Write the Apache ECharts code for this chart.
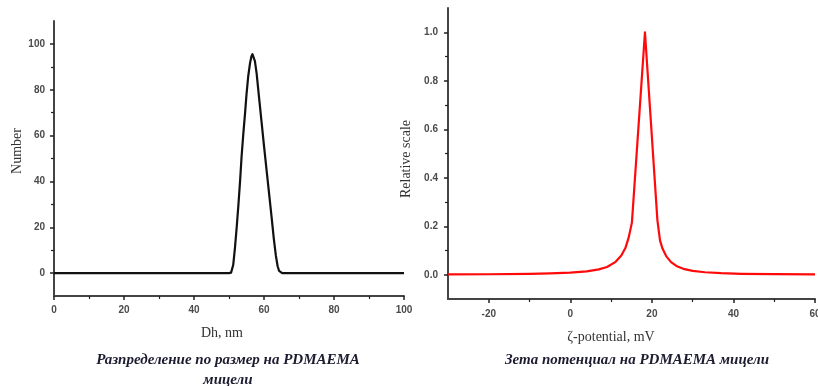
<!DOCTYPE html>
<html>
<head>
<meta charset="utf-8">
<script src="https://cdn.jsdelivr.net/npm/echarts@6/dist/echarts.min.js"></script>
<style>
html,body{margin:0;padding:0;background:#fff;}
#c{width:818px;height:386px;}
</style>
</head>
<body>
<div id="c"></div>
<script>
// Left panel: size distribution (Dh, nm vs Number)
const sizeX = [0, 10, 20, 30, 40, 50, 50.6, 50.9, 51.2, 51.7, 52.2, 52.7, 53.2, 53.6, 54.1, 54.6, 55.0, 55.5, 56.0, 56.4, 56.7, 57.0, 57.4, 57.9, 58.6, 59.3, 60.0, 60.8, 61.5, 62.2, 62.8, 63.4, 63.9, 64.3, 64.7, 65.2, 70, 80, 90, 100];
const sizeY = [0, 0, 0, 0, 0, 0, 0.2, 1, 3.5, 11, 20, 30, 41, 51, 61, 70, 78, 86, 91.5, 94.5, 95.5, 95, 92.5, 87, 76.5, 66, 55.5, 44, 34, 24, 15, 7.5, 3, 1, 0.2, 0, 0, 0, 0, 0];
const sizeXTicks = [0, 20, 40, 60, 80, 100];
const sizeXMinor = [10, 30, 50, 70, 90];
const sizeYTicks = [0, 20, 40, 60, 80, 100];
const sizeYMinor = [10, 30, 50, 70, 90];

// Right panel: zeta potential (mV vs relative scale)
const zetaX = [-30, -20, -10, -5, 0, 4, 7, 9, 11, 12.5, 13.5, 14.3, 15.1, 18.3, 21.35, 22, 22.6, 23.5, 24.7, 26, 28, 30, 33, 37, 42, 50, 60];
const zetaY = [0.0012, 0.002, 0.0036, 0.0053, 0.0085, 0.0139, 0.022, 0.032, 0.052, 0.079, 0.11, 0.153, 0.215, 1.0, 0.225, 0.141, 0.108, 0.077, 0.052, 0.0365, 0.023, 0.016, 0.0103, 0.0064, 0.004, 0.0022, 0.0013];
const zetaXTicks = [-20, 0, 20, 40, 60];
const zetaXMinor = [-10, 10, 30, 50];
const zetaYTicks = [0, 0.2, 0.4, 0.6, 0.8, 1.0];
const zetaYMinor = [0.1, 0.3, 0.5, 0.7, 0.9];

const leftTitle = ['Разпределение по размер на PDMAEMA', 'мицели'];
const rightTitle = 'Зета потенциал на PDMAEMA мицели';

const axisColor = '#444';
const labelStyle = {fontFamily: 'Liberation Sans', fontSize: 10, fontWeight: 'bold', color: '#4a4a4a'};
const lineStyle = {color: axisColor, width: 2};

function majorAxis(extra) {
  return Object.assign({
    type: 'value',
    axisLine: {show: true, onZero: false, lineStyle: lineStyle},
    splitLine: {show: false},
  }, extra);
}
function minorAxis(extra) {
  return Object.assign({
    type: 'value',
    axisLine: {show: false, onZero: false},
    splitLine: {show: false},
    axisLabel: {show: false},
  }, extra);
}
const majTick = vals => ({show: true, length: 4, customValues: vals, lineStyle: {color: '#222', width: 1.5}});
const minTick = vals => ({show: true, length: 3, customValues: vals, lineStyle: {color: '#222', width: 1.2}});

const chart = echarts.init(document.getElementById('c'), null, {renderer: 'canvas'});
const option = {
  animation: false,
  backgroundColor: '#fff',
  grid: [
    {left: 54, top: 21, width: 350, height: 275, outerBoundsMode: 'none', containLabel: false},
    {left: 448, top: 8, width: 367, height: 291, outerBoundsMode: 'none', containLabel: false}
  ],
  xAxis: [
    majorAxis({gridIndex: 0, position: 'bottom', min: 0, max: 100,
      axisLabel: Object.assign({margin: 9, customValues: sizeXTicks}, labelStyle), axisTick: majTick(sizeXTicks)}),
    minorAxis({gridIndex: 0, position: 'bottom', min: 0, max: 100, axisTick: minTick(sizeXMinor)}),
    majorAxis({gridIndex: 1, position: 'bottom', min: -30, max: 60,
      axisLabel: Object.assign({margin: 10, customValues: zetaXTicks}, labelStyle), axisTick: majTick(zetaXTicks)}),
    minorAxis({gridIndex: 1, position: 'bottom', min: -30, max: 60, axisTick: minTick(zetaXMinor)})
  ],
  yAxis: [
    majorAxis({gridIndex: 0, position: 'left', min: -10, max: 110,
      axisLabel: Object.assign({margin: 9, customValues: sizeYTicks}, labelStyle), axisTick: majTick(sizeYTicks)}),
    minorAxis({gridIndex: 0, position: 'left', min: -10, max: 110, axisTick: minTick(sizeYMinor)}),
    majorAxis({gridIndex: 1, position: 'left', min: -0.1, max: 1.1,
      axisLabel: Object.assign({margin: 10, customValues: zetaYTicks, formatter: v => v.toFixed(1)}, labelStyle), axisTick: majTick(zetaYTicks)}),
    minorAxis({gridIndex: 1, position: 'left', min: -0.1, max: 1.1, axisTick: minTick(zetaYMinor)})
  ],
  series: [
    {type: 'line', xAxisIndex: 0, yAxisIndex: 0, data: sizeX.map((x, i) => [x, sizeY[i]]),
     smooth: false, showSymbol: false, lineStyle: {color: '#111', width: 2.2, join: 'round'}, z: 5},
    {type: 'line', xAxisIndex: 2, yAxisIndex: 2, data: zetaX.map((x, i) => [x, zetaY[i]]),
     smooth: false, showSymbol: false, lineStyle: {color: '#ff0a0a', width: 2.2, join: 'round'}, z: 5}
  ],
  graphic: [
    {type: 'text', x: 17, y: 151, rotation: Math.PI / 2,
     style: {text: 'Number', font: '14px "Liberation Serif"', fill: '#333', align: 'center', verticalAlign: 'middle'}},
    {type: 'text', x: 222, y: 333,
     style: {text: 'Dh, nm', font: '14px "Liberation Serif"', fill: '#333', align: 'center', verticalAlign: 'middle'}},
    {type: 'text', x: 406, y: 159, rotation: Math.PI / 2,
     style: {text: 'Relative scale', font: '14px "Liberation Serif"', fill: '#333', align: 'center', verticalAlign: 'middle'}},
    {type: 'text', x: 611, y: 337,
     style: {text: 'ζ-potential, mV', font: '14px "Liberation Serif"', fill: '#333', align: 'center', verticalAlign: 'middle'}},
    {type: 'text', x: 228, y: 360,
     style: {text: leftTitle[0], font: 'italic bold 15px "Liberation Serif"', fill: '#1c1c30', align: 'center', verticalAlign: 'middle'}},
    {type: 'text', x: 228, y: 380,
     style: {text: leftTitle[1], font: 'italic bold 15px "Liberation Serif"', fill: '#1c1c30', align: 'center', verticalAlign: 'middle'}},
    {type: 'text', x: 637, y: 360,
     style: {text: rightTitle, font: 'italic bold 15px "Liberation Serif"', fill: '#1c1c30', align: 'center', verticalAlign: 'middle'}}
  ]
};
chart.setOption(option);
</script>
</body>
</html>
